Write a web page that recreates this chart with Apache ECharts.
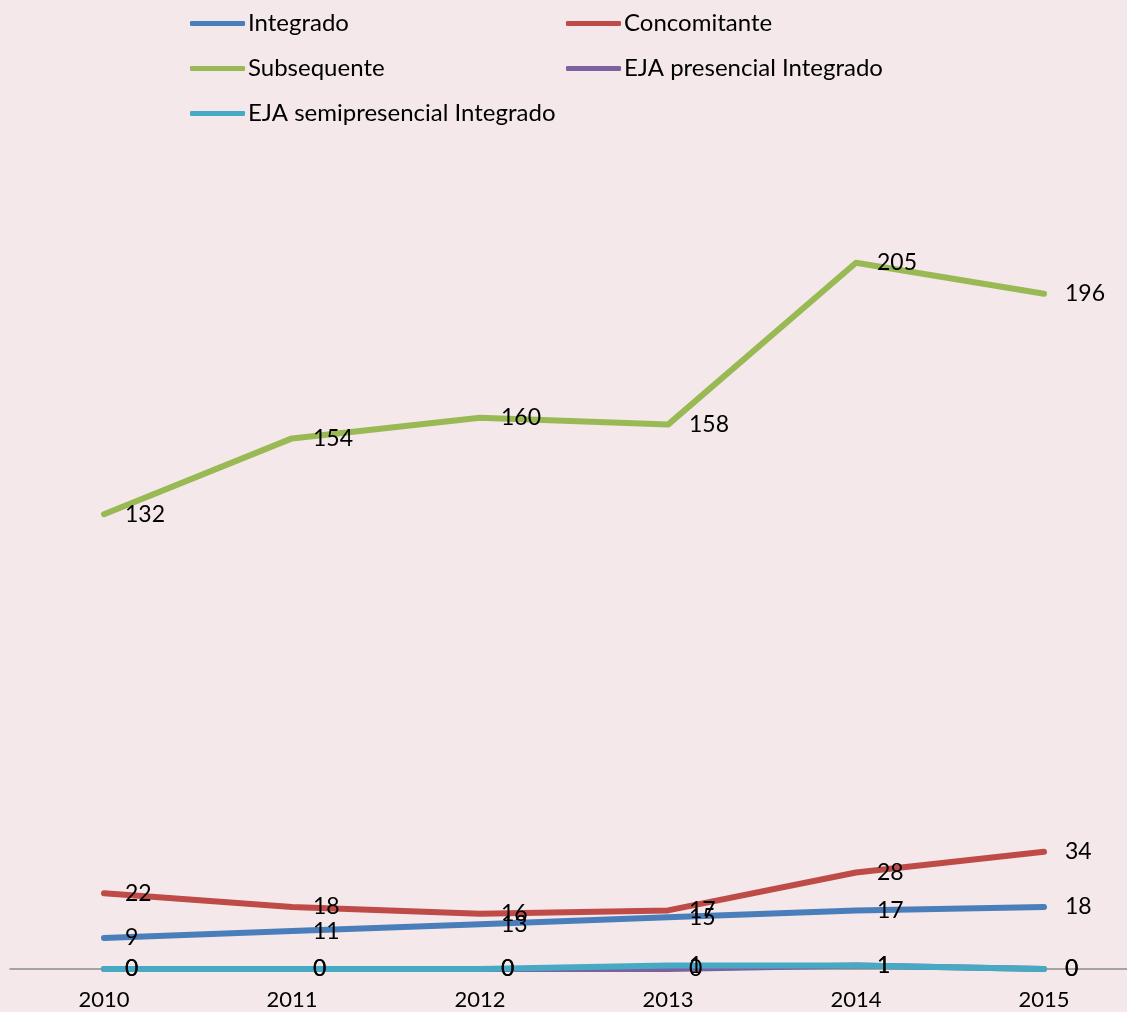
<!DOCTYPE html>
<html><head><meta charset="utf-8">
<script src="https://cdn.jsdelivr.net/npm/echarts@6/dist/echarts.min.js"></script>
<style>html,body{margin:0;padding:0;background:#F4E8EA;}#c{width:1127px;height:1012px;}</style>
</head><body><div id="c"></div>
<script>
const categories = ['2010','2011','2012','2013','2014','2015'];
const integrado = [9, 11, 13, 15, 17, 18];
const concomitante = [22, 18, 16, 17, 28, 34];
const subsequente = [132, 154, 160, 158, 205, 196];
const ejaPresencial = [0, 0, 0, 0, 1, 0];
const ejaSemipresencial = [0, 0, 0, 1, 1, 0];
const names = ['Integrado','Concomitante','Subsequente','EJA presencial Integrado','EJA semipresencial Integrado'];
const colors = ['#4A7EBB','#BE4B48','#98B954','#7D60A0','#46AAC5'];
const FONT = 'Lato';
const chart = echarts.init(document.getElementById('c'));
function mk(name, data, color){
  return {name, type:'line', data, showSymbol:true, symbol:'circle', symbolSize:0.01, silent:true,
    lineStyle:{color, width:6, cap:'round', join:'round'}, itemStyle:{color},
    label:{show:true, position:'right', distance:21, color:'#000', fontSize:23, fontFamily:FONT},
    emphasis:{disabled:true}};
}
const legendCommon = {orient:'vertical', itemWidth:55, itemHeight:5, icon:'roundRect', itemGap:20,
  textStyle:{fontSize:24, fontFamily:FONT, color:'#000', lineHeight:25, padding:[0,0,0,-2]}, selectedMode:false};
chart.setOption({
  backgroundColor:'#F4E8EA',
  animation:false,
  legend:[
    Object.assign({left:185, top:6, data:[names[0], names[2], names[4]]}, legendCommon),
    Object.assign({left:561, top:6, data:[names[1], names[3]]}, legendCommon)
  ],
  grid:{left:10, width:1128, top:211, bottom:43, outerBoundsMode:'none', containLabel:false},
  xAxis:{type:'category', data:categories, boundaryGap:true,
    axisLine:{lineStyle:{color:'#8C8C8C', width:1.5}}, axisTick:{show:false},
    axisLabel:{color:'#000', fontSize:22, fontFamily:FONT, margin:20}},
  yAxis:{type:'value', min:0, max:220, show:false, splitLine:{show:false}},
  series:[
    mk(names[0], integrado, colors[0]),
    mk(names[1], concomitante, colors[1]),
    mk(names[2], subsequente, colors[2]),
    mk(names[3], ejaPresencial, colors[3]),
    mk(names[4], ejaSemipresencial, colors[4])
  ]
});
</script></body></html>
